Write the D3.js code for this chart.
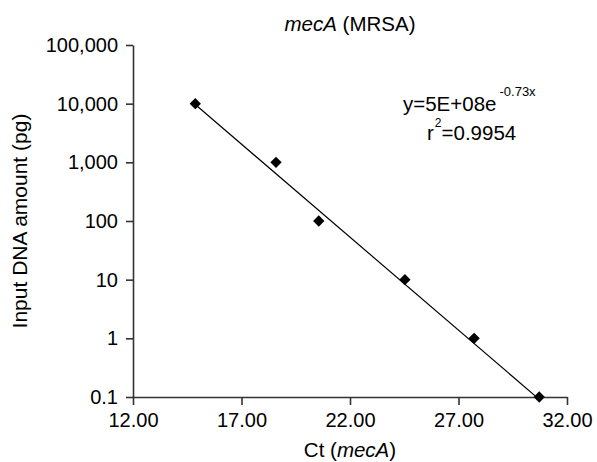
<!DOCTYPE html>
<html>
<head>
<meta charset="utf-8">
<script src="https://cdn.jsdelivr.net/npm/d3@7"></script>
<style>
  body { margin: 0; background: #fff; }
  text { font-family: "Liberation Sans", Arial, sans-serif; fill: #000; }
</style>
</head>
<body>
<div id="chart"></div>
<script>
// data
const ctValues = [14.87, 18.59, 20.56, 24.53, 27.72, 30.72];
const dnaAmounts = [10000, 1000, 100, 10, 1, 0.1];
const xTicks = [12, 17, 22, 27, 32];
const yTicks = [0.1, 1, 10, 100, 1000, 10000, 100000];
// trendline y = a * e^(-b x)
const trendA = 5e8, trendB = 0.73;

const width = 597, height = 462;
const margin = {top: 45, right: 30, bottom: 65, left: 133};

const svg = d3.select("#chart")
    .append("svg")
    .attr("width", width)
    .attr("height", height);

const x = d3.scaleLinear()
    .domain([12, 32])
    .range([margin.left, width - margin.right]);

const y = d3.scaleLog()
    .domain([0.1, 100000])
    .range([height - margin.bottom, margin.top]);

// axes
const xAxis = svg.append("g")
    .attr("transform", `translate(0,${height - margin.bottom})`)
    .call(d3.axisBottom(x).tickValues(xTicks).tickFormat(d3.format(".2f"))
        .tickSize(8).tickSizeOuter(0).tickPadding(8));

const yAxis = svg.append("g")
    .attr("transform", `translate(${margin.left},0)`)
    .call(d3.axisLeft(y).tickValues(yTicks).tickFormat(d3.format(","))
        .tickSize(7).tickSizeOuter(0).tickPadding(8));

[xAxis, yAxis].forEach(g => {
    g.selectAll("path, line").attr("stroke", "#333").attr("stroke-width", 1.6);
    g.selectAll("text").style("font-size", "20px").attr("fill", "#000");
});

// trendline
const trend = t => trendA * Math.exp(-trendB * t);
const xExt = d3.extent(ctValues);
svg.append("path")
    .attr("d", d3.line()(xExt.map(t => [x(t), y(trend(t))])))
    .attr("fill", "none")
    .attr("stroke", "#000")
    .attr("stroke-width", 1.2);

// points
svg.selectAll("path.pt")
    .data(ctValues)
    .join("path")
    .attr("class", "pt")
    .attr("d", d3.symbol().type(d3.symbolSquare).size(64))
    .attr("transform", (d, i) => `translate(${x(d)},${y(dnaAmounts[i])}) rotate(45)`)
    .attr("fill", "#000");

// title
const title = svg.append("text")
    .attr("x", (margin.left + width - margin.right) / 2)
    .attr("y", 31)
    .attr("text-anchor", "middle")
    .style("font-size", "20.5px");
title.append("tspan").style("font-style", "italic").text("mecA");
title.append("tspan").text(" (MRSA)");

// x label
const xl = svg.append("text")
    .attr("x", (margin.left + width - margin.right) / 2)
    .attr("y", 457)
    .attr("text-anchor", "middle")
    .style("font-size", "20.5px");
xl.append("tspan").text("Ct (");
xl.append("tspan").style("font-style", "italic").text("mecA");
xl.append("tspan").text(")");

// y label
svg.append("text")
    .attr("transform", `translate(27,${(margin.top + height - margin.bottom) / 2}) rotate(-90)`)
    .attr("text-anchor", "middle")
    .style("font-size", "21px")
    .text("Input DNA amount (pg)");

// equation
const eq = svg.append("text")
    .attr("x", 403)
    .attr("y", 111)
    .style("font-size", "20.5px");
eq.append("tspan").text("y=5E+08e");
eq.append("tspan").attr("dx", 3).attr("dy", -15).style("font-size", "13px").text("-0.73x");

const r2 = svg.append("text")
    .attr("x", 427)
    .attr("y", 140)
    .style("font-size", "20.5px");
r2.append("tspan").text("r");
r2.append("tspan").attr("dx", 1).attr("dy", -13).style("font-size", "12px").text("2");
r2.append("tspan").attr("dy", 13).text("=0.9954");
</script>
</body>
</html>
